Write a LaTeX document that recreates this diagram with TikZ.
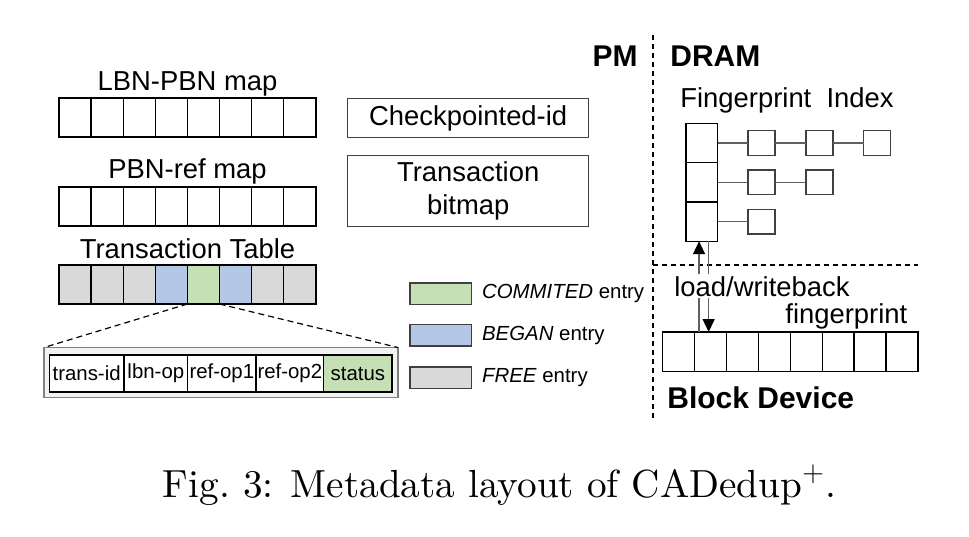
\documentclass[tikz,border=0pt]{standalone}
\usepackage{fontspec}
\setsansfont{Liberation Sans}
\newfontfamily\capfont{lmroman10-regular.otf}
\usetikzlibrary{arrows.meta,positioning}

\definecolor{freegray}{HTML}{D9D9D9}
\definecolor{beganblue}{HTML}{B4C7E7}
\definecolor{commitgreen}{HTML}{C5E0B4}
\definecolor{recgray}{HTML}{F2F2F2}
\definecolor{edgegray}{HTML}{404040}
\definecolor{linkgray}{HTML}{606060}

\begin{document}
\begin{tikzpicture}[
    x=0.5pt, y=-0.5pt,
    every node/.style={font=\sffamily\fontsize{13.7}{16.4}\selectfont},
    cell/.style={draw, line width=0.7pt, minimum width=16.05pt, minimum height=19.5pt,
      inner sep=0pt, outer sep=0pt, anchor=north west},
    field/.style={cell, fill=white, minimum height=18.5pt, font=\sffamily\fontsize{10.2}{12}\selectfont},
    infobox/.style={draw=edgegray, line width=0.7pt, minimum width=120.5pt, minimum height=19.5pt,
      inner sep=0pt, anchor=north west, align=center},
    legbox/.style={draw=edgegray, line width=0.7pt, minimum width=30.85pt, minimum height=10.8pt,
      inner sep=0pt, outer sep=0pt, anchor=north west},
    legtext/.style={right=5pt of #1, inner sep=0pt, font=\sffamily\fontsize{10.2}{12}\selectfont},
    fpbox/.style={draw=edgegray, line width=0.7pt, minimum width=13.5pt, minimum height=12.25pt,
      inner sep=0pt, outer sep=0pt},
    zone/.style={inner sep=0pt, font=\sffamily\bfseries\fontsize{15}{18}\selectfont},
    sep/.style={line width=0.9pt, dash pattern=on 2.5pt off 2pt},
    link/.style={linkgray, line width=0.7pt},
    flow/.style={linkgray, line width=0.7pt, -{Triangle[black, length=6.5pt, width=6pt]}},
]
\useasboundingbox (0,0) rectangle (969,536);

% PM structures
\node[anchor=base] (lpname) at (187.5,90) {LBN-PBN map};
\foreach \i in {0,...,7}
  \node[cell] (lp\i) at ({59+32.1*\i},98) {};

\node[anchor=base] (prname) at (187.5,178.3) {PBN-ref map};
\foreach \i in {0,...,7}
  \node[cell] (pr\i) at ({59+32.1*\i},187) {};

\node[anchor=base] (ttname) at (187.5,258) {Transaction Table};
\foreach \i/\c in {0/freegray,1/freegray,2/freegray,3/beganblue,4/commitgreen,5/beganblue,6/freegray,7/freegray}
  \node[cell, fill=\c] (tt\i) at ({59+32.1*\i},265) {};

% one transaction entry
\node[draw=gray, fill=recgray, line width=0.8pt, minimum width=177pt, minimum height=25pt,
  inner sep=0pt, outer sep=0pt, anchor=north west] (rec) at (44,347.5) {};
\node[field, minimum width=37.35pt] (f1) at (49.3,355) {trans-id};
\node[field, minimum width=31.85pt, right=0pt of f1] (f2) {lbn-op};
\node[field, minimum width=34.15pt, right=0pt of f2] (f3) {ref-op1};
\node[field, minimum width=33.85pt, right=0pt of f3] (f4) {ref-op2};
\node[field, minimum width=34.15pt, right=0pt of f4, fill=commitgreen] (f5) {status};
\draw[dash pattern=on 3pt off 2pt, line width=0.6pt] (tt4.south west) -- (rec.north west);
\draw[dash pattern=on 3pt off 2pt, line width=0.6pt] (tt4.south east) -- (rec.north east);

\node[infobox] (ckpt) at (347,98) {Checkpointed-id};
\node[infobox, minimum height=35.5pt] (tbmp) at (347,155) {Transaction\\bitmap};

% legend
\node[legbox, fill=commitgreen] (lgc) at (410,283) {};
\node[legtext=lgc] (lgct) {\textit{COMMITED} entry};
\node[legbox, fill=beganblue] (lgb) at (410,324.5) {};
\node[legtext=lgb] (lgbt) {\textit{BEGAN} entry};
\node[legbox, fill=freegray] (lgf) at (410,367) {};
\node[legtext=lgf] (lgft) {\textit{FREE} entry};

% regions
\coordinate (vtop) at (653,35);
\coordinate (vbot) at (653,420);
\coordinate (hl) at (653,265);
\coordinate (hr) at (918,265);
\draw[sep] (vtop) -- (vbot);
\draw[sep] (hl) -- (hr);
\node[zone, anchor=base east] (pm) at (638,66.7) {PM};
\node[zone, anchor=base west] (dram) at (670,66.7) {DRAM};
\node[zone, anchor=base west] (bdname) at (667,408.3) {Block Device};

% fingerprint index
\node[anchor=base west, inner sep=0pt] (fpname) at (680,107.5) {Fingerprint\ \ Index};
\foreach \i in {0,1,2}
  \node[cell, minimum width=15.85pt, minimum height=19.65pt] (hc\i) at (686,{123.3+39.3*\i}) {};
\node[fpbox, right=15.2pt of hc0] (e00) {};
\node[fpbox, right=15.4pt of e00] (e01) {};
\node[fpbox, right=15.4pt of e01] (e02) {};
\node[fpbox, right=15.2pt of hc1] (e10) {};
\node[fpbox, right=15.4pt of e10] (e11) {};
\node[fpbox, right=15.2pt of hc2] (e20) {};
\draw[link] (hc0) -- (e00) -- (e01) -- (e02);
\draw[link] (hc1) -- (e10) -- (e11);
\draw[link] (hc2) -- (e20);

% block device
\foreach \i in {0,...,7}
  \node[cell, minimum width=15.95pt, minimum height=19.85pt] (bd\i) at ({662.7+31.9*\i},332) {};

\coordinate (upend) at ([xshift=-1.4pt]hc2.south);
\coordinate (downstart) at ([xshift=3.4pt]hc2.south);
\draw[flow] (upend |- bd1.north) -- (upend);
\draw[flow] (downstart) -- (downstart |- bd1.north);
\node[anchor=base west, fill=white, inner sep=1pt] (lwb) at (672,296) {load/writeback};
\node[anchor=base west, inner sep=0pt] (fpt) at (785,323.3) {fingerprint};

% caption
\node[anchor=base, font=\capfont\fontsize{19.6}{23}\selectfont] (cap) at (499.5,497)
  {Fig.~3: Metadata layout of CADedup$^{+}$.};
\end{tikzpicture}
\end{document}
